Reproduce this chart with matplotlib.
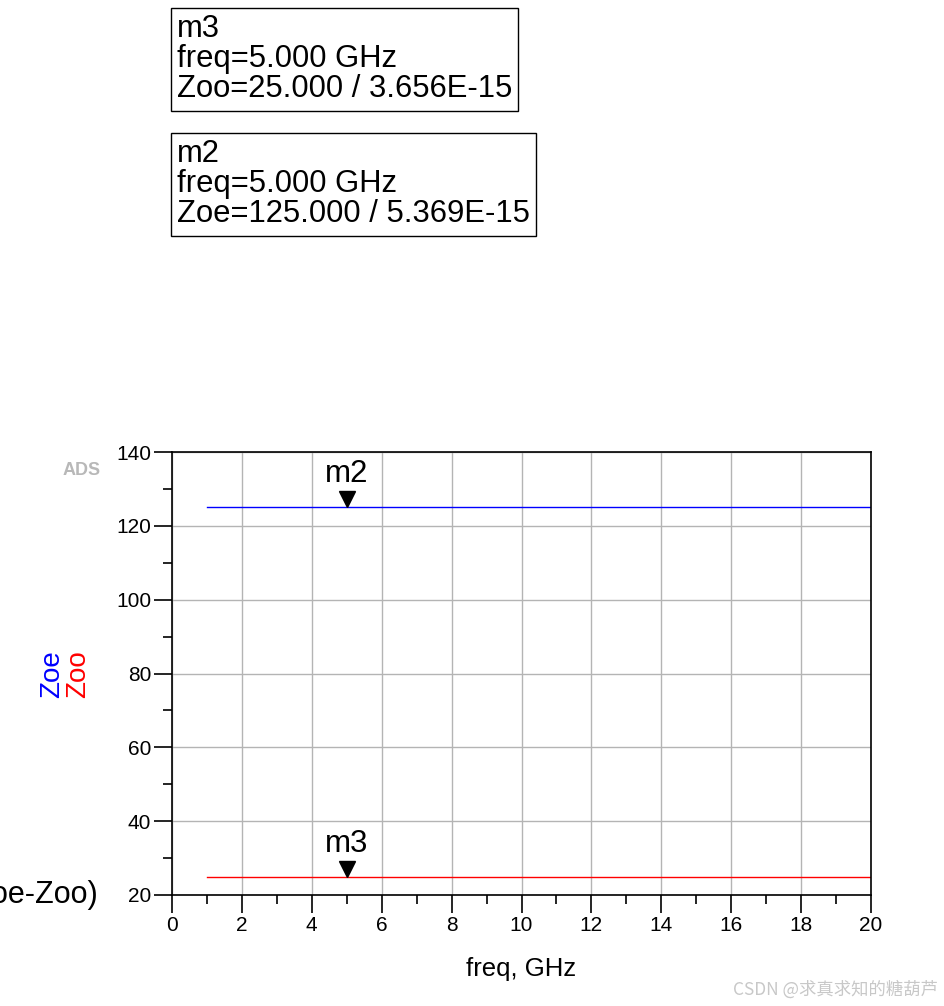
import matplotlib
matplotlib.use("Agg")
import matplotlib.pyplot as plt
import matplotlib.transforms as mtransforms
from matplotlib.ticker import MultipleLocator

plt.rcParams['font.family'] = ['Liberation Sans', 'DejaVu Sans']

# Even/odd mode impedance sweep
freq_ghz = [1.0, 5.0, 10.0, 15.0, 20.0]
zoe = [125.0, 125.0, 125.0, 125.0, 125.0]
zoo = [25.0, 25.0, 25.0, 25.0, 25.0]

# Markers
m2_freq, m2_val, m2_im = 5.0, 125.0, '5.369E-15'
m3_freq, m3_val, m3_im = 5.0, 25.0, '3.656E-15'

W, H = 944, 1006
fig = plt.figure(figsize=(W / 100, H / 100), dpi=100)
ax = fig.add_axes([172 / W, 1 - 895 / H, (871 - 172) / W, (895 - 452) / H])

ax.plot(freq_ghz, zoe, color='blue', lw=1.0)
ax.plot(freq_ghz, zoo, color='red', lw=1.0)

ax.set_xlim(0, 20)
ax.set_ylim(20, 140)
ax.xaxis.set_major_locator(MultipleLocator(2))
ax.xaxis.set_minor_locator(MultipleLocator(1))
ax.yaxis.set_major_locator(MultipleLocator(20))
ax.yaxis.set_minor_locator(MultipleLocator(10))
ax.grid(True, which='major', color='#b4b4b4', lw=1.0)
ax.tick_params(which='major', direction='out', length=13, width=1.2, labelsize=15, pad=2)
ax.tick_params(which='minor', direction='out', length=6.5, width=1.2)
for s in ax.spines.values():
    s.set_linewidth(1.2)

ax.set_xlabel('freq, GHz', fontsize=18.5, labelpad=16)

# y label: two coloured names side by side
fig.text(52 / W, 1 - 674 / H, 'Zoe', color='blue', rotation=90, fontsize=20,
         ha='center', va='center')
fig.text(78 / W, 1 - 674 / H, 'Zoo', color='red', rotation=90, fontsize=20,
         ha='center', va='center')

# marker triangles with names above them
for name, f, v in [('m2', m2_freq, m2_val), ('m3', m3_freq, m3_val)]:
    off = mtransforms.ScaledTranslation(0, 8 / 100, fig.dpi_scale_trans)
    ax.plot([f], [v], marker='v', color='black', ms=11.5, ls='none',
            transform=ax.transData + off, clip_on=False)
    ax.annotate(name, (f, v), xytext=(0, 18), textcoords='offset pixels',
                ha='center', va='bottom', fontsize=22.5)

# marker readout boxes
box = dict(boxstyle='square,pad=0.2', fc='white', ec='black', lw=1.0)
fig.text(177 / W, 1 - 14 / H, 'm3\nfreq=%.3f GHz\nZoo=%.3f / %s' % (m3_freq, m3_val, m3_im),
         fontsize=22.3, ha='left', va='top', linespacing=1.01, bbox=box)
fig.text(177 / W, 1 - 139 / H, 'm2\nfreq=%.3f GHz\nZoe=%.3f / %s' % (m2_freq, m2_val, m2_im),
         fontsize=22.3, ha='left', va='top', linespacing=1.01, bbox=box)

# equation label, partly past the left edge
fig.text(98 / W, 1 - 895 / H, '(Zoe-Zoo)', fontsize=22, ha='right', va='center')

fig.text(82 / W, 1 - 470 / H, 'ADS', fontsize=13, color='#b8b8b8', fontweight='bold',
         ha='center', va='center')
fig.text(938 / W, 1 - 990 / H, 'CSDN @求真求知的糖葫芦', fontsize=12.5, color='#c8c8c8',
         ha='right', va='center', family=['Noto Sans CJK SC', 'DejaVu Sans'])

fig.savefig('out.png', dpi=100)
